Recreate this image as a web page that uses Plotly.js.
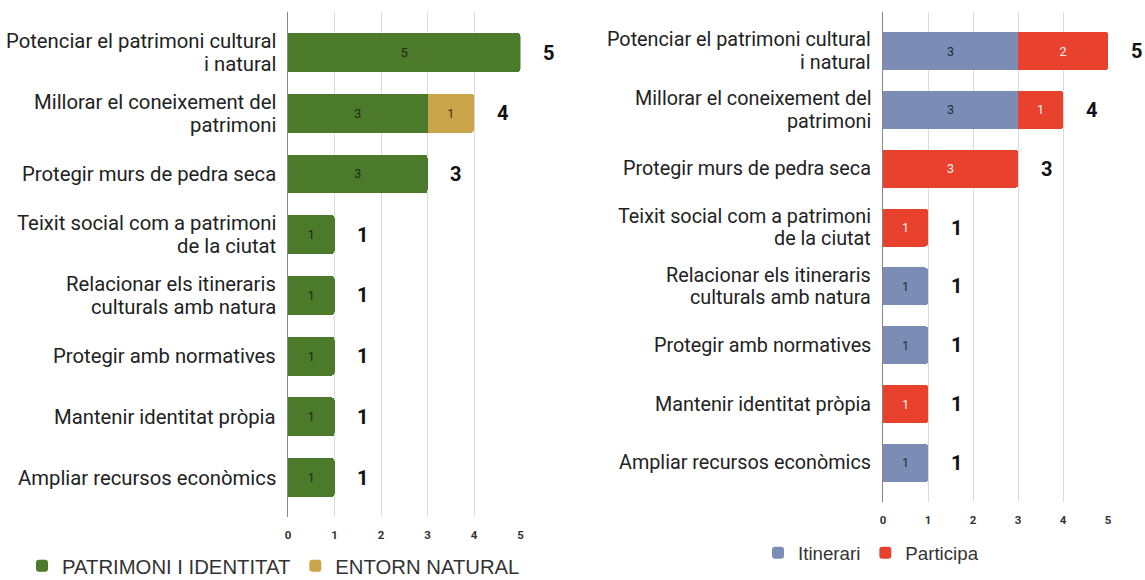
<!DOCTYPE html>
<html>
<head>
<meta charset="utf-8">
<script src="https://cdn.plot.ly/plotly-3.0.1.min.js"></script>
<style>html,body{margin:0;padding:0;background:#fff;}#chart{width:1145px;height:580px;}</style>
</head>
<body>
<div id="chart"></div>
<script>
const categories = [
  "Potenciar el patrimoni cultural<br>i natural",
  "Millorar el coneixement del<br>patrimoni",
  "Protegir murs de pedra seca",
  "Teixit social com a patrimoni<br>de la ciutat",
  "Relacionar els itineraris<br>culturals amb natura",
  "Protegir amb normatives",
  "Mantenir identitat pròpia",
  "Ampliar recursos econòmics"
];
const patrimoniIdentitat = [5, 3, 3, 1, 1, 1, 1, 1];
const entornNatural      = [0, 1, 0, 0, 0, 0, 0, 0];
const itinerari          = [3, 3, 0, 0, 1, 1, 0, 1];
const participa          = [2, 1, 3, 1, 0, 0, 1, 0];
const xTicks = [0, 1, 2, 3, 4, 5];

const FONT = "Roboto, 'Liberation Sans', Arial, sans-serif";
const LEGFONT = "'Liberation Sans', Arial, sans-serif";
const lbl = v => v.map(x => x > 0 ? String(x) : "");
const sum = (a, b) => a.map((x, i) => x + b[i]);

function barTrace(name, vals, color, xa, ya, legend, txtColor, w) {
  return {
    type: "bar", orientation: "h", name: name,
    x: vals, y: categories, xaxis: xa, yaxis: ya, legend: legend,
    marker: {color: color},
    text: lbl(vals), textposition: "inside", insidetextanchor: "middle",
    textangle: 0, constraintext: "none",
    insidetextfont: {family: FONT, size: 12.5, color: txtColor},
    width: w, hoverinfo: "skip"
  };
}

const data = [
  barTrace("PATRIMONI I IDENTITAT", patrimoniIdentitat, "#4b7a2a", "x", "y", "legend", "#1d2912", 0.64),
  barTrace("ENTORN NATURAL", entornNatural, "#c9a449", "x", "y", "legend", "#3a2e10", 0.64),
  barTrace("Itinerari", itinerari, "#7b8db5", "x2", "y2", "legend2", "#222b40", 0.645),
  barTrace("Participa", participa, "#e8412e", "x2", "y2", "legend2", "#fff2ee", 0.645)
];

const totalsL = sum(patrimoniIdentitat, entornNatural);
const totalsR = sum(itinerari, participa);
const annotations = [];
totalsL.forEach((t, i) => annotations.push({x: t, y: categories[i], xref: "x", yref: "y",
  text: String(t), showarrow: false, xshift: 28, font: {family: FONT, size: 20, color: "#111", weight: "bold"}}));
totalsR.forEach((t, i) => annotations.push({x: t, y: categories[i], xref: "x2", yref: "y2",
  text: String(t), showarrow: false, xshift: 28, font: {family: FONT, size: 20, color: "#111", weight: "bold"}}));

// category labels (one annotation per line for tight line spacing)
function catLabels(xa, ya, size, lh) {
  categories.forEach(c => {
    const lines = c.split("<br>");
    lines.forEach((ln, j) => {
      const off = (lines.length - 1) / 2 - j;
      annotations.push({x: 0, y: c, xref: xa, yref: ya, text: ln, showarrow: false,
        xanchor: "right", xshift: -10, yshift: off * lh,
        font: {family: FONT, size: size, color: "#222"}});
    });
  });
}
catLabels("x", "y", 20.3, 23);
catLabels("x2", "y2", 19.8, 22.5);

const xBase = {
  range: [0, 5], tickvals: xTicks, ticktext: xTicks.map(String),
  showgrid: true, gridcolor: "#dcdcdc", gridwidth: 1, zeroline: false,
  tickfont: {family: FONT, size: 11.5, color: "#333", weight: "bold"},
  ticks: "", fixedrange: true, ticklabelstandoff: 9
};
const yBase = {
  type: "category", showgrid: false, zeroline: false,
  showline: true, linecolor: "#888", linewidth: 1.5,
  showticklabels: false, ticks: "", fixedrange: true
};

const layout = {
  width: 1145, height: 580,
  margin: {l: 0, r: 0, t: 0, b: 0, autoexpand: false},
  paper_bgcolor: "#fff", plot_bgcolor: "#fff",
  font: {family: FONT, color: "#222"},
  barmode: "stack", barcornerradius: 3,
  xaxis: Object.assign({}, xBase, {domain: [288/1145, 520.5/1145], anchor: "y"}),
  yaxis: Object.assign({}, yBase, {domain: [1 - 517/580, 1 - 12/580], range: [7.65, -0.667], anchor: "x"}),
  xaxis2: Object.assign({}, xBase, {domain: [883/1145, 1108/1145], anchor: "y2"}),
  yaxis2: Object.assign({}, yBase, {domain: [1 - 502/580, 1 - 12/580], range: [7.663, -0.663], anchor: "x2"}),
  annotations: annotations,
  showlegend: true,
  legend: {orientation: "h", x: 22/1145, y: 1 - 566/580,
    xanchor: "left", yanchor: "middle",
    font: {family: LEGFONT, size: 20.3, color: "#333"}, traceorder: "normal", bgcolor: "rgba(0,0,0,0)"},
  legend2: {orientation: "h", x: 758/1145, y: 1 - 553/580,
    xanchor: "left", yanchor: "middle",
    font: {family: LEGFONT, size: 18.7, color: "#333"}, traceorder: "normal", bgcolor: "rgba(0,0,0,0)"}
};

Plotly.newPlot("chart", data, layout, {displayModeBar: false, staticPlot: true});
</script>
</body>
</html>
